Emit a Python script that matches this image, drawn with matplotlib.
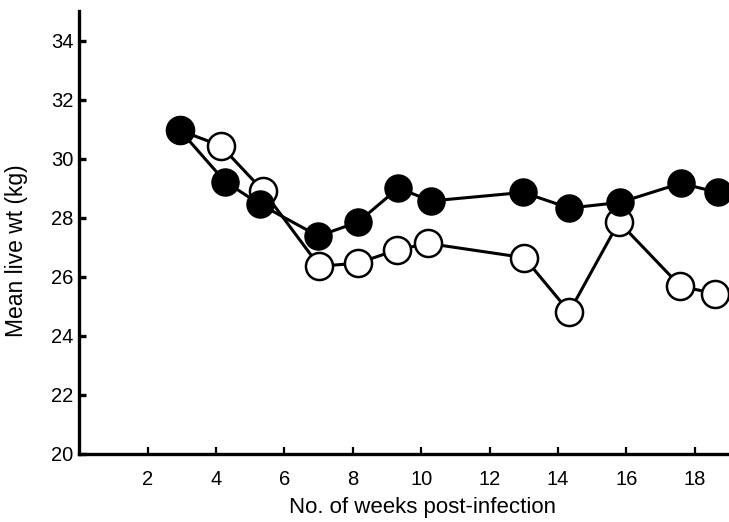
import matplotlib
matplotlib.use("Agg")
import matplotlib.pyplot as plt

# Data
weeks_infected = [2.95, 4.26, 5.28, 6.99, 8.16, 9.33, 10.28, 12.98, 14.33, 15.81, 17.59, 18.67]
wt_infected = [30.95, 29.22, 28.45, 27.37, 27.85, 29.0, 28.56, 28.85, 28.32, 28.51, 29.16, 28.85]

weeks_control = [2.95, 4.14, 5.38, 7.02, 8.14, 9.28, 10.2, 13.01, 14.33, 15.78, 17.58, 18.59]
wt_control = [30.95, 30.43, 28.90, 26.35, 26.45, 26.90, 27.12, 26.64, 24.80, 27.85, 25.67, 25.42]

xticks = [2, 4, 6, 8, 10, 12, 14, 16, 18]
yticks = [20, 22, 24, 26, 28, 30, 32, 34]

plt.rcParams['font.family'] = ['Liberation Sans', 'DejaVu Sans']

fig = plt.figure(figsize=(7.29, 5.22), dpi=100)
ax = fig.add_axes([79.3 / 729, (522 - 453.5) / 522, 1 - 79.3 / 729, (453.5 - 11) / 522])

ax.plot(weeks_control, wt_control, color='black', lw=2.2, marker='o', ms=19.5,
        mfc='white', mec='black', mew=1.8, zorder=3, clip_on=False)
ax.plot(weeks_infected, wt_infected, color='black', lw=2.2, marker='o', ms=19.5,
        mfc='black', mec='black', zorder=4, clip_on=False)

ax.set_xlim(0, 19)
ax.set_ylim(20, 35)
ax.set_xticks(xticks)
ax.set_yticks(yticks)
ax.spines['top'].set_visible(False)
ax.spines['right'].set_visible(False)
ax.spines['left'].set_linewidth(2.4)
ax.spines['bottom'].set_linewidth(2.4)
ax.tick_params(axis='y', direction='in', length=5, width=2.4, labelsize=14.5, pad=4)
ax.tick_params(axis='x', direction='in', length=5, width=1.6, labelsize=14.5, pad=12)
ax.set_xlabel('No. of weeks post-infection', fontsize=16, va='center')
ax.xaxis.set_label_coords(0.529, -(508 - 453.5) / 442.5)
fig.text(17 / 729, 1 - 251 / 522, 'Mean live wt (kg)', rotation=90, fontsize=16.5,
         ha='center', va='center')

fig.savefig('out.png', dpi=100)
